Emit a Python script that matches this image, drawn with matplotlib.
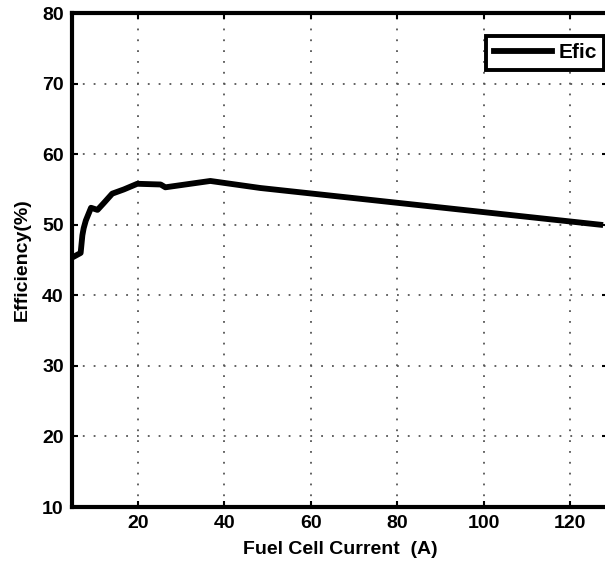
import matplotlib
matplotlib.use('Agg')
import matplotlib.pyplot as plt

# --- дані ---
current = [5.0, 6.8, 7.2, 7.5, 8.0, 9.2, 10.7, 12.2, 14.1, 16.8, 19.9,
           25.3, 26.4, 36.8, 48.4, 127.0]
efficiency = [45.4, 46.0, 48.5, 49.5, 50.6, 52.4, 52.1, 53.1, 54.4, 55.0, 55.8,
              55.7, 55.3, 56.2, 55.2, 50.0]

x_ticks = [20, 40, 60, 80, 100, 120]
y_ticks = [10, 20, 30, 40, 50, 60, 70, 80]

plt.rcParams['font.family'] = ['Liberation Sans', 'DejaVu Sans']
plt.rcParams['font.weight'] = 'bold'

fig = plt.figure(figsize=(6.05, 5.63), dpi=100)
ax = fig.add_axes([72 / 605, 1 - 507 / 563, 536 / 605, (507 - 13) / 563])

ax.plot(current, efficiency, color='black', linewidth=4.2, label='Efic',
        solid_joinstyle='round')

ax.set_xlim(4.8, 128.8)
ax.set_ylim(10, 80)
ax.set_xticks(x_ticks)
ax.set_yticks(y_ticks)
ax.tick_params(direction='in', length=4, width=1.5, labelsize=14,
               top=True, right=True, pad=6)
for lbl in ax.get_xticklabels() + ax.get_yticklabels():
    lbl.set_fontweight('bold')

ax.grid(True, linestyle=(0, (1, 5)), color='#555555', linewidth=1.3)
for s in ax.spines.values():
    s.set_linewidth(3)

ax.set_xlabel('Fuel Cell Current  (A)', fontsize=14, fontweight='bold', labelpad=6)
ax.set_ylabel('Efficiency(%)', fontsize=14, fontweight='bold', labelpad=8)

leg = ax.legend(loc='upper right', bbox_to_anchor=(604 / 605, 1 - 36 / 563),
                bbox_transform=fig.transFigure, fancybox=False, framealpha=1,
                edgecolor='black', fontsize=15, handlelength=2.8,
                borderpad=0.35, handletextpad=0.3, borderaxespad=0)
leg.get_frame().set_linewidth(2.8)
for t in leg.get_texts():
    t.set_fontweight('bold')

fig.savefig('out.png', dpi=100)
